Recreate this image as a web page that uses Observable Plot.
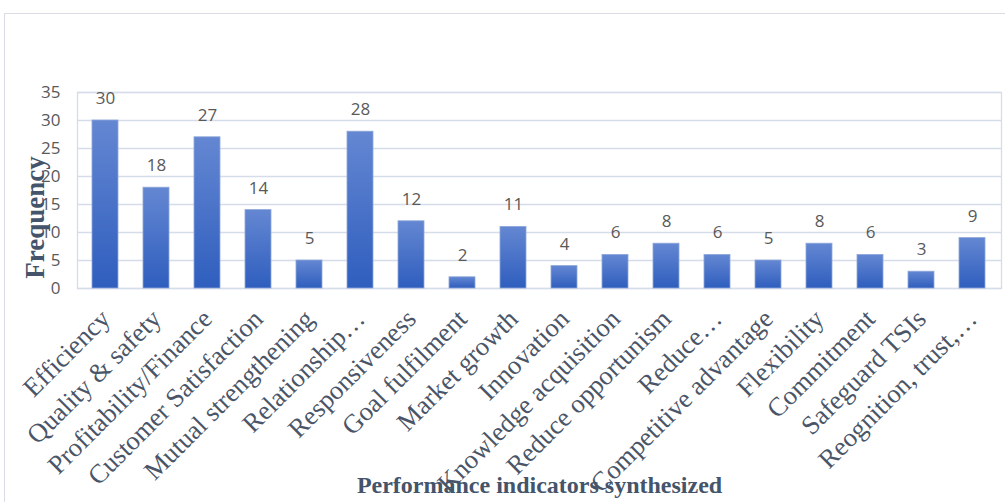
<!DOCTYPE html>
<html><head><meta charset="utf-8">
<script src="https://cdn.jsdelivr.net/npm/d3@7"></script>
<script src="https://cdn.jsdelivr.net/npm/@observablehq/plot@0.6"></script>
<style>
html,body{margin:0;padding:0;background:#fff;overflow:hidden}
#wrap{position:relative;width:1005px;height:502px}
#border{position:absolute;left:4px;top:13px;width:1100px;height:600px;border:1.5px solid #D9DCE3;box-sizing:border-box;pointer-events:none}
</style></head>
<body><div id="wrap"><div id="border"></div><div id="chart"></div></div>
<script>
const categories = ["Efficiency","Quality & safety","Profitability/Finance","Customer Satisfaction","Mutual strengthening","Relationship…","Responsiveness","Goal fulfilment","Market growth","Innovation","Knowledge acquisition","Reduce opportunism","Reduce…","Competitive advantage","Flexibility","Commitment","Safeguard TSIs","Reognition, trust,…"];
const frequency = [30,18,27,14,5,28,12,2,11,4,6,8,6,5,8,6,3,9];
const yTicks = [0,5,10,15,20,25,30,35];
const yTitle = "Frequency";
const xTitle = "Performance indicators synthesized";

const data = categories.map((c,i)=>({category:c, value:frequency[i]}));

function gradientDefs(){
  const ns="http://www.w3.org/2000/svg";
  const defs=document.createElementNS(ns,"defs");
  const g=document.createElementNS(ns,"linearGradient");
  g.setAttribute("id","barGrad");g.setAttribute("x1","0");g.setAttribute("y1","0");g.setAttribute("x2","0");g.setAttribute("y2","1");
  [["0%","#6487D2"],["100%","#2F5EBE"]].forEach(([o,c])=>{const s=document.createElementNS(ns,"stop");s.setAttribute("offset",o);s.setAttribute("stop-color",c);g.appendChild(s);});
  defs.appendChild(g);return defs;
}

const chart = Plot.plot({
  width:1005, height:502,
  marginLeft:77, marginRight:4, marginTop:92, marginBottom:214,
  style:{background:"transparent"},
  x:{domain:categories, paddingInner:0.49, paddingOuter:0.25, label:null},
  y:{domain:[0,35], label:null},
  marks:[
    gradientDefs,
    Plot.gridY(yTicks,{stroke:"#D5DCEA",strokeOpacity:1,strokeWidth:1.3}),
    Plot.frame({stroke:"#D5DCEA",strokeWidth:1.3}),
    Plot.barY(data,{x:"category",y:"value",fill:"url(#barGrad)",stroke:"#8EA7DA",strokeWidth:0.8}),
    Plot.text(data,{x:"category",y:"value",text:d=>String(d.value),dy:-22,fontSize:17,fill:"#595959",fontFamily:"Open Sans"}),
    Plot.axisY({ticks:yTicks,tickSize:0,tickPadding:17,fontSize:17,fill:"#595959",fontFamily:"Open Sans",label:null}),
    Plot.axisX({tickSize:0,tickPadding:20,dy:6,tickRotate:-45,fontSize:26.5,fill:"#4A5568",fontFamily:"Liberation Serif",label:null}),
    Plot.text([yTitle],{text:d=>d,frameAnchor:"left",textAnchor:"middle",dx:-42,dy:27,rotate:-90,fontSize:27,fontWeight:"bold",fill:"#44546A",fontFamily:"Liberation Serif"}),
    Plot.text([xTitle],{text:d=>d,frameAnchor:"bottom",dx:0,dy:204,fontSize:24,fontWeight:"bold",fill:"#44546A",fontFamily:"Liberation Serif"})
  ]
});
document.getElementById("chart").appendChild(chart);
</script></body></html>
